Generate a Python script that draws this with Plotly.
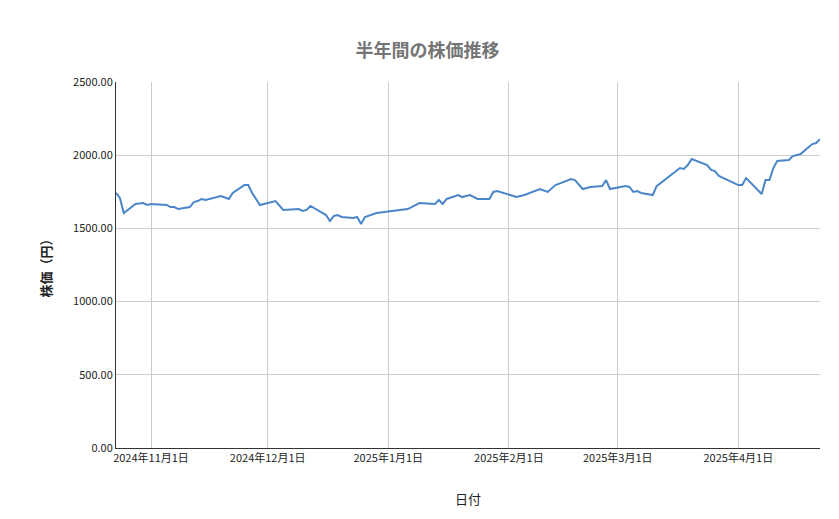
import plotly.graph_objects as go

dates = ["2024-10-23","2024-10-24","2024-10-25","2024-10-28","2024-10-30","2024-10-31","2024-11-01",
"2024-11-05","2024-11-06","2024-11-07","2024-11-08","2024-11-11","2024-11-12","2024-11-13","2024-11-14","2024-11-15",
"2024-11-19","2024-11-21","2024-11-22","2024-11-25","2024-11-26","2024-11-27","2024-11-29",
"2024-12-03","2024-12-05","2024-12-09","2024-12-10","2024-12-11","2024-12-12","2024-12-16","2024-12-17","2024-12-18",
"2024-12-19","2024-12-20","2024-12-23","2024-12-24","2024-12-25","2024-12-26","2024-12-29",
"2025-01-06","2025-01-07","2025-01-09","2025-01-13","2025-01-14","2025-01-15","2025-01-16","2025-01-19","2025-01-20",
"2025-01-21","2025-01-22","2025-01-24","2025-01-27","2025-01-28","2025-01-29",
"2025-02-03","2025-02-05","2025-02-09","2025-02-11","2025-02-13","2025-02-17","2025-02-18","2025-02-20","2025-02-22",
"2025-02-25","2025-02-26","2025-02-27",
"2025-03-03","2025-03-04","2025-03-05","2025-03-06","2025-03-07","2025-03-10","2025-03-11","2025-03-13","2025-03-17",
"2025-03-18","2025-03-19","2025-03-20","2025-03-24","2025-03-25","2025-03-26","2025-03-27",
"2025-04-01","2025-04-02","2025-04-03","2025-04-07","2025-04-08","2025-04-09","2025-04-10","2025-04-11","2025-04-14",
"2025-04-15","2025-04-17","2025-04-20","2025-04-21","2025-04-22"]
prices = [1742,1708,1605,1667,1673,1660,1667,
1660,1646,1646,1632,1646,1680,1687,1701,1694,
1721,1701,1742,1796,1796,1742,1660,
1687,1626,1632,1619,1626,1653,1591,1550,1585,
1591,1578,1571,1578,1530,1578,1605,
1632,1646,1673,1667,1694,1667,1701,1728,1714,
1721,1728,1701,1701,1749,1755,
1714,1728,1769,1749,1796,1837,1830,1769,1783,
1789,1830,1769,
1789,1783,1749,1755,1742,1728,1789,1830,1912,
1906,1933,1974,1933,1899,1892,1858,
1796,1796,1844,1735,1830,1830,1912,1960,1967,
1994,2008,2076,2083,2110]

tick_vals = ["2024-11-01","2024-12-01","2025-01-01","2025-02-01","2025-03-01","2025-04-01"]
tick_text = ["2024年11月1日","2024年12月1日","2025年1月1日","2025年2月1日","2025年3月1日","2025年4月1日"]

fig = go.Figure(go.Scatter(x=dates, y=prices, mode="lines",
                           line=dict(color="#4a86c8", width=2)))
fig.update_layout(
    width=839, height=519,
    margin=dict(l=108, r=27, t=74, b=79, autoexpand=False),
    paper_bgcolor="white", plot_bgcolor="white",
    font=dict(family="Noto Sans CJK JP, Roboto, sans-serif", size=11, color="#222"),
    title=dict(text="<b>半年間の株価推移</b>", x=0.5, xanchor="center", y=0.93,
               font=dict(size=18, color="#757575")),
    showlegend=False,
)
fig.update_xaxes(range=["2024-10-23","2025-04-22"], tickvals=tick_vals, ticktext=tick_text,
                 showgrid=True, gridcolor="#cccccc", showline=True, linecolor="#333", zeroline=False,
                 ticks="", automargin=False, title=dict(text="日付", standoff=30))
fig.update_yaxes(range=[0,2500], dtick=500, tickformat=".2f", showgrid=True, gridcolor="#cccccc",
                 showline=True, linecolor="#333", zeroline=False, ticks="", automargin=False,
                 title=dict(text="<b>株価（円）</b>", standoff=18))
fig.write_html("out.html")
